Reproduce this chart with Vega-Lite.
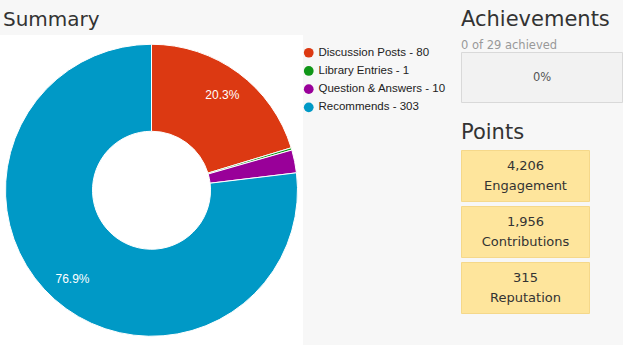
{
  "$schema": "https://vega.github.io/schema/vega-lite/v6.json",
  "background": "#f7f7f7",
  "padding": {"left": 0, "top": 8, "right": 1.5, "bottom": 0},
  "config": {
    "view": {"stroke": null},
    "font": "DejaVu Sans",
    "title": {"font": "DejaVu Sans", "fontWeight": "normal", "color": "#333333", "anchor": "start"}
  },
  "columns": 2,
  "spacing": 157.5,
  "align": "none",
  "concat": [
    {
      "title": {"text": "Summary", "fontSize": 20, "dx": 3, "offset": 5},
      "width": 303,
      "height": 310.5,
      "view": {"fill": "white", "stroke": null},
      "data": {
        "values": [
          {"legend": "Discussion Posts - 80", "count": 80, "share": 0.203},
          {"legend": "Library Entries - 1", "count": 1, "share": 0.003},
          {"legend": "Question & Answers - 10", "count": 10, "share": 0.025},
          {"legend": "Recommends - 303", "count": 303, "share": 0.769}
        ]
      },
      "encoding": {
        "theta": {"field": "count", "type": "quantitative", "stack": true},
        "order": {"field": "legend", "type": "ordinal"}
      },
      "layer": [
        {
          "mark": {"type": "arc", "outerRadius": 146, "innerRadius": 59, "stroke": "white", "strokeWidth": 1},
          "encoding": {
            "color": {
              "field": "legend",
              "type": "nominal",
              "scale": {"range": ["#dc3912", "#109618", "#990099", "#0099c6"]},
              "legend": {
                "orient": "none",
                "legendX": 303,
                "legendY": 12,
                "title": null,
                "symbolType": "circle",
                "symbolSize": 95,
                "symbolStrokeWidth": 0,
                "symbolOpacity": 1,
                "labelFont": "Liberation Sans",
                "labelFontSize": 11.5,
                "labelColor": "#222222",
                "labelOffset": 4,
                "rowPadding": 5.2,
                "padding": 0,
                "labelLimit": 300
              }
            }
          }
        },
        {
          "mark": {"type": "text", "radius": 119, "fill": "white", "font": "Liberation Sans", "fontSize": 12},
          "encoding": {
            "text": {
              "condition": {"test": "datum.share > 0.1", "field": "share", "type": "quantitative", "format": ".1%"},
              "value": ""
            }
          }
        }
      ]
    },
    {
      "spacing": 18.5,
      "vconcat": [
        {
          "title": {
            "text": "Achievements",
            "subtitle": "0 of 29 achieved",
            "fontSize": 21,
            "subtitleFont": "DejaVu Sans",
            "subtitleFontSize": 11.5,
            "subtitleColor": "#999999",
            "subtitlePadding": 10,
            "offset": -16
          },
          "width": 161,
          "height": 67.5,
          "data": {"values": [{"metric": "Achievements", "achieved": 0, "total": 29, "percent": 0}]},
          "encoding": {
            "y": {
              "field": "metric",
              "type": "nominal",
              "axis": null,
              "scale": {"paddingInner": 0, "paddingOuter": 0.175, "align": 1}
            }
          },
          "layer": [
            {"mark": {"type": "rect", "fill": "#f2f2f2", "stroke": "#d9d9d9", "strokeWidth": 1}},
            {
              "mark": {"type": "text", "fontSize": 11.5, "color": "#555555"},
              "encoding": {"text": {"field": "percent", "type": "quantitative", "format": ".0%"}}
            }
          ]
        },
        {
          "title": {"text": "Points", "fontSize": 21, "offset": 7},
          "width": 128,
          "height": 163,
          "data": {
            "values": [
              {"category": "Engagement", "points": 4206},
              {"category": "Contributions", "points": 1956},
              {"category": "Reputation", "points": 315}
            ]
          },
          "encoding": {
            "y": {
              "field": "category",
              "type": "nominal",
              "sort": null,
              "axis": null,
              "scale": {"paddingInner": 0.09, "paddingOuter": 0}
            }
          },
          "layer": [
            {"mark": {"type": "rect", "fill": "#fee59c", "stroke": "#f5d88a", "strokeWidth": 1}},
            {
              "mark": {"type": "text", "dy": -10, "fontSize": 13, "color": "#333333"},
              "encoding": {"text": {"field": "points", "type": "quantitative", "format": ","}}
            },
            {
              "mark": {"type": "text", "dy": 10, "fontSize": 13, "color": "#333333"},
              "encoding": {"text": {"field": "category", "type": "nominal"}}
            }
          ]
        }
      ]
    }
  ]
}
